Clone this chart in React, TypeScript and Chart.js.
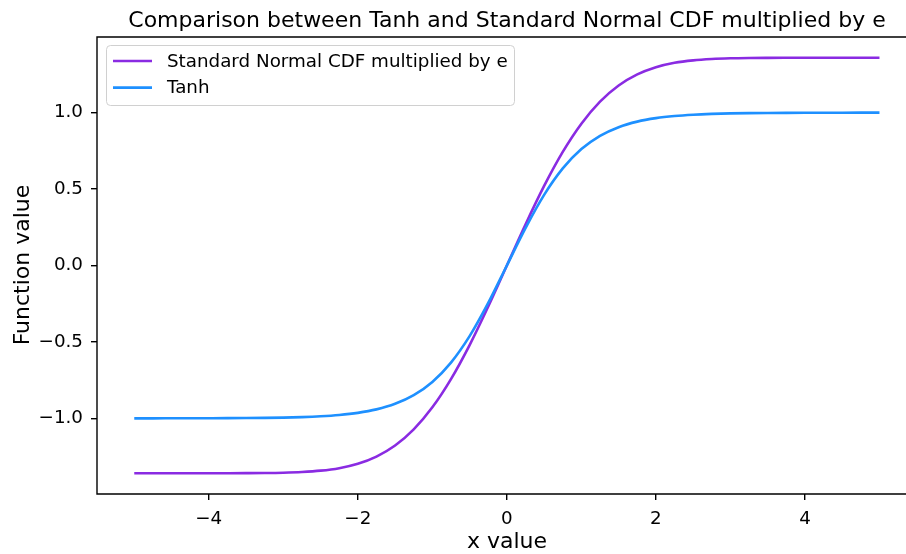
import { useEffect, useRef } from "react";
import Chart from "chart.js/auto";

// x samples, read every 0.25 along the axis
const xValues = [
  -5, -4.75, -4.5, -4.25, -4, -3.75, -3.5, -3.25, -3, -2.75, -2.5, -2.25, -2, -1.75, -1.5, -1.25, -1, -0.75, -0.5, -0.25,
  0, 0.25, 0.5, 0.75, 1, 1.25, 1.5, 1.75, 2, 2.25, 2.5, 2.75, 3, 3.25, 3.5, 3.75, 4, 4.25, 4.5, 4.75, 5,
];

const cdfTimesE = [
  -1.3591, -1.3591, -1.3591, -1.3591, -1.3591, -1.3589, -1.3585, -1.3576, -1.3555, -1.351, -1.3423, -1.326, -1.2972,
  -1.2501, -1.1776, -1.0721, -0.9278, -0.7432, -0.5205, -0.2683, 0, 0.2683, 0.5205, 0.7432, 0.9278, 1.0721, 1.1776,
  1.2501, 1.2972, 1.326, 1.3423, 1.351, 1.3555, 1.3576, 1.3585, 1.3589, 1.3591, 1.3591, 1.3591, 1.3591, 1.3591,
];

const tanhValues = [
  -0.9999, -0.9999, -0.9998, -0.9996, -0.9993, -0.9989, -0.9982, -0.997, -0.9951, -0.9919, -0.9866, -0.978, -0.964,
  -0.9414, -0.9051, -0.8483, -0.7616, -0.6351, -0.4621, -0.2449, 0, 0.2449, 0.4621, 0.6351, 0.7616, 0.8483, 0.9051,
  0.9414, 0.964, 0.978, 0.9866, 0.9919, 0.9951, 0.997, 0.9982, 0.9989, 0.9993, 0.9996, 0.9998, 0.9999, 0.9999,
];

const xTicks = [-4, -2, 0, 2, 4];
const yTicks = [-1, -0.5, 0, 0.5, 1];

const seriesLabels = ["Standard Normal CDF multiplied by e", "Tanh"];
const seriesColors = ["#8a2be2", "#1e90ff"];

const TITLE = "Comparison between Tanh and Standard Normal CDF multiplied by e";
const X_LABEL = "x value";
const Y_LABEL = "Function value";
const FONT = "'DejaVu Sans', sans-serif";

const fmt = (v: number, digits: number) => (v < 0 ? "\u2212" : "") + Math.abs(v).toFixed(digits);

// frame, title, axis labels and legend, matplotlib style
const decorations = {
  id: "decorations",
  afterDraw(chart: any) {
    const { ctx, chartArea } = chart;
    const { left, top, right, bottom } = chartArea;
    ctx.save();

    ctx.strokeStyle = "#000";
    ctx.lineWidth = 1.4;
    ctx.beginPath();
    ctx.moveTo(right + 2, top);
    ctx.lineTo(left, top);
    ctx.lineTo(left, bottom);
    ctx.lineTo(right + 2, bottom);
    ctx.stroke();

    const cx = 507;
    ctx.fillStyle = "#000";
    ctx.font = `22px ${FONT}`;
    ctx.textAlign = "center";
    ctx.textBaseline = "alphabetic";
    ctx.fillText(TITLE, cx, 27);
    ctx.fillText(X_LABEL, cx, 548);

    ctx.save();
    ctx.translate(29, 265);
    ctx.rotate(-Math.PI / 2);
    ctx.fillText(Y_LABEL, 0, 0);
    ctx.restore();

    // legend
    ctx.beginPath();
    ctx.roundRect(106.5, 45.5, 408, 60, 4);
    ctx.fillStyle = "rgba(255,255,255,0.8)";
    ctx.fill();
    ctx.strokeStyle = "#d0d0d0";
    ctx.lineWidth = 1;
    ctx.stroke();

    ctx.font = `18.3px ${FONT}`;
    ctx.textAlign = "left";
    ctx.textBaseline = "middle";
    seriesLabels.forEach((label, i) => {
      const y = 61 + i * 26.6;
      ctx.strokeStyle = seriesColors[i];
      ctx.lineWidth = 2.6;
      ctx.beginPath();
      ctx.moveTo(113, y);
      ctx.lineTo(152, y);
      ctx.stroke();
      ctx.fillStyle = "#000";
      ctx.fillText(label, 167, y + 1);
    });

    ctx.restore();
  },
};

const App = () => {
  const chartRef = useRef<HTMLCanvasElement>(null);

  useEffect(() => {
    if (!chartRef.current) return;

    const chartInstance = new Chart(chartRef.current, {
      type: "line",
      data: {
        datasets: [
          {
            label: seriesLabels[0],
            data: xValues.map((x, i) => ({ x, y: cdfTimesE[i] })),
            borderColor: seriesColors[0],
            borderWidth: 2.6,
            pointRadius: 0,
            cubicInterpolationMode: "monotone",
            order: 2,
          },
          {
            label: seriesLabels[1],
            data: xValues.map((x, i) => ({ x, y: tanhValues[i] })),
            borderColor: seriesColors[1],
            borderWidth: 2.6,
            pointRadius: 0,
            cubicInterpolationMode: "monotone",
            order: 1,
          },
        ],
      },
      options: {
        animation: false,
        responsive: true,
        maintainAspectRatio: false,
        layout: {
          padding: { top: 37, left: 0, right: 0, bottom: 0 },
        },
        plugins: {
          legend: { display: false },
          title: { display: false },
          tooltip: { enabled: false },
        },
        scales: {
          x: {
            type: "linear",
            min: -5.5,
            max: 5.356,
            afterBuildTicks: (scale: any) => {
              scale.ticks = xTicks.map((value) => ({ value }));
            },
            afterFit: (scale: any) => {
              scale.height = 60;
            },
            border: { display: false },
            grid: {
              drawOnChartArea: false,
              drawTicks: true,
              tickLength: 6,
              color: "#000",
              lineWidth: 1.4,
            },
            ticks: {
              autoSkip: false,
              maxRotation: 0,
              padding: 8,
              color: "#000",
              font: { family: FONT, size: 18.3 },
              callback: (value: any) => fmt(Number(value), 0),
            },
          },
          y: {
            type: "linear",
            min: -1.495,
            max: 1.495,
            afterBuildTicks: (scale: any) => {
              scale.ticks = yTicks.map((value) => ({ value }));
            },
            afterFit: (scale: any) => {
              scale.width = 97;
            },
            border: { display: false },
            grid: {
              drawOnChartArea: false,
              drawTicks: true,
              tickLength: 6,
              color: "#000",
              lineWidth: 1.4,
            },
            ticks: {
              autoSkip: false,
              padding: 8,
              color: "#000",
              font: { family: FONT, size: 18.3 },
              callback: (value: any) => fmt(Number(value), 1),
            },
          },
        },
      },
      plugins: [decorations],
    });

    return () => {
      chartInstance.destroy();
    };
  }, []);

  return (
    <div style={{ position: "absolute", left: 0, top: 0, width: 906, height: 554, background: "#fff" }}>
      <canvas ref={chartRef}></canvas>
    </div>
  );
};

export default App;
